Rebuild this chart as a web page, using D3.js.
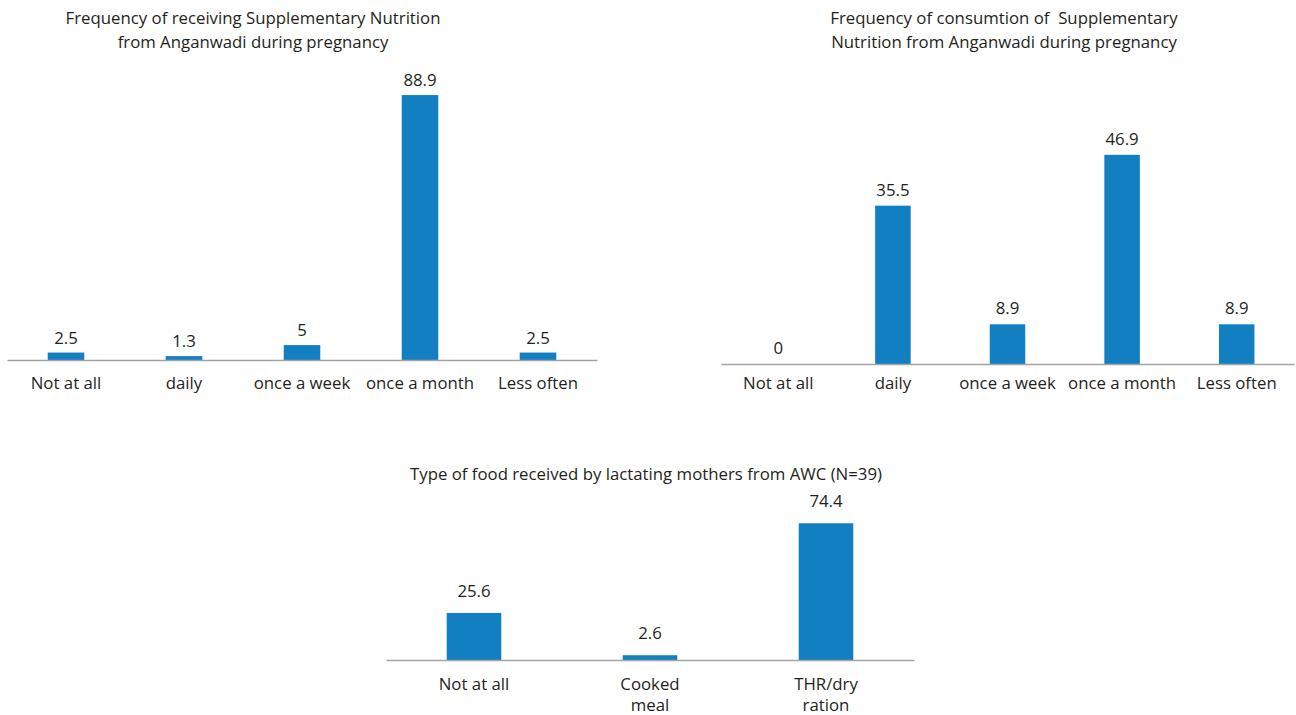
<!DOCTYPE html>
<html>
<head>
<meta charset="utf-8">
<script src="https://cdn.jsdelivr.net/npm/d3@7"></script>
<style>
    body { margin: 0; background: #fff; }
    text { font-family: 'Open Sans', sans-serif; fill: #231f20; white-space: pre; }
</style>
</head>
<body>
<div id="chart"></div>
<script>
//Datos
const cats1 = ['Not at all', 'daily', 'once a week', 'once a month', 'Less often'];
const vals1 = [2.5, 1.3, 5, 88.9, 2.5];
const title1 = ['Frequency of receiving Supplementary Nutrition', 'from Anganwadi during pregnancy'];

const cats2 = ['Not at all', 'daily', 'once a week', 'once a month', 'Less often'];
const vals2 = [0, 35.5, 8.9, 46.9, 8.9];
const title2 = ['Frequency of consumtion of  Supplementary', 'Nutrition from Anganwadi during pregnancy'];

const cats3 = ['Not at all', 'Cooked meal', 'THR/dry ration'];
const vals3 = [25.6, 2.6, 74.4];
const title3 = ['Type of food received by lactating mothers from AWC (N=39)'];

//Colores fijos
const COLOR_BAR = '#137fc3',
    COLOR_AXIS = '#a3a3a3';
const FONT_SIZE = 16.8;

let svg = d3.select('#chart')
    .append('svg')
    .attr('width', 1296)
    .attr('height', 715);

function drawChart(cats, vals, title, opt) {
    let g = svg.append('g');

    let x = d3.scaleBand()
        .domain(cats)
        .range(opt.xRange)
        .paddingInner(0.69)
        .paddingOuter(0.345);

    let y = d3.scaleLinear()
        .domain(opt.yDomain)
        .range([opt.base, opt.yTop]);

    //Titulo
    g.append('text')
        .attr('text-anchor', 'middle')
        .attr('font-size', FONT_SIZE)
        .selectAll('tspan')
        .data(title)
        .enter()
        .append('tspan')
        .attr('x', opt.titleX)
        .attr('y', function(d, i) { return opt.titleY + i * 24; })
        .text(function(d) { return d; });

    //Barras
    g.selectAll('.bar')
        .data(vals)
        .enter()
        .append('rect')
        .attr('class', 'bar')
        .attr('x', function(d, i) { return x(cats[i]); })
        .attr('width', x.bandwidth())
        .attr('y', function(d) { return y(d); })
        .attr('height', function(d) { return opt.base - y(d); })
        .attr('fill', COLOR_BAR);

    //Etiquetas
    g.selectAll('.label')
        .data(vals)
        .enter()
        .append('text')
        .attr('class', 'label')
        .attr('text-anchor', 'middle')
        .attr('font-size', FONT_SIZE)
        .attr('x', function(d, i) { return x(cats[i]) + x.bandwidth() / 2; })
        .attr('y', function(d) { return y(d) - opt.labelGap; })
        .text(function(d) { return d; });

    //Eje X
    let axis = g.append('g')
        .attr('transform', 'translate(0,' + opt.base + ')')
        .call(d3.axisBottom(x).tickSize(0).tickSizeOuter(0).tickPadding(0));
    axis.select('.domain').attr('stroke', COLOR_AXIS).attr('stroke-width', 1.6);
    axis.selectAll('.tick text').remove();

    axis.selectAll('.tick')
        .append('text')
        .attr('text-anchor', 'middle')
        .attr('font-size', FONT_SIZE)
        .each(function(d) {
            let words = d.split(' ');
            let lines = [d];
            if (opt.wrap && words.length > 1 && d.length > 10) {
                lines = [words.slice(0, -1).join(' '), words[words.length - 1]];
            }
            d3.select(this).selectAll('tspan')
                .data(lines)
                .enter()
                .append('tspan')
                .attr('x', 0)
                .attr('y', function(l, i) { return opt.tickY + i * 21; })
                .text(function(l) { return l; });
        });
}

drawChart(cats1, vals1, title1, {
    xRange: [7, 597], yDomain: [0, 100], base: 360, yTop: 62,
    titleX: 253, titleY: 24, labelGap: 9, tickY: 29, wrap: false
});

drawChart(cats2, vals2, title2, {
    xRange: [721, 1294], yDomain: [0, 50], base: 364, yTop: 141,
    titleX: 1004, titleY: 24, labelGap: 10, tickY: 25, wrap: false
});

drawChart(cats3, vals3, title3, {
    xRange: [386, 914], yDomain: [0, 80], base: 660, yTop: 513,
    titleX: 646, titleY: 480, labelGap: 16, tickY: 30, wrap: true
});
</script>
</body>
</html>
